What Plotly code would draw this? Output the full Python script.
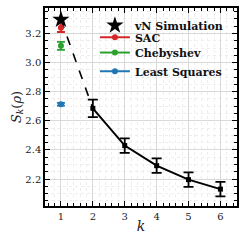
import plotly.graph_objects as go

# Data
k_vals = [2, 3, 4, 5, 6]
s_vals = [2.686, 2.43, 2.292, 2.196, 2.131]
s_err = [0.06, 0.05, 0.05, 0.05, 0.05]

vn_k = [1]
vn_s = [3.295]

dash_k = [1, 2]
dash_s = [3.295, 2.686]

sac_k = [1]
sac_s = [3.24]
sac_err = [0.03]

cheb_k = [1]
cheb_s = [3.115]
cheb_err = [0.028]

ls_k = [1]
ls_s = [2.714]
ls_err = [0.01]

x_ticks = [1, 2, 3, 4, 5, 6]
y_ticks = [2.2, 2.4, 2.6, 2.8, 3.0, 3.2]
y_tick_labels = ["2.2", "2.4", "2.6", "2.8", "3.0", "3.2"]

SERIF = "DejaVu Serif"
RED = "#d62728"
GREEN = "#2ca02c"
BLUE = "#1f77b4"

fig = go.Figure()

fig.add_trace(go.Scatter(
    x=dash_k, y=dash_s, mode="lines",
    line=dict(color="black", width=1.6, dash="dash"),
    showlegend=False, hoverinfo="skip"))

fig.add_trace(go.Scatter(
    x=k_vals, y=s_vals, mode="lines+markers",
    line=dict(color="black", width=2),
    marker=dict(color="black", size=5, symbol="square"),
    error_y=dict(type="data", array=s_err, color="black", thickness=1.8, width=5),
    showlegend=False))

fig.add_trace(go.Scatter(
    x=sac_k, y=sac_s, mode="lines+markers", name="SAC", legend="legend2",
    line=dict(color=RED, width=2),
    marker=dict(color=RED, size=6),
    error_y=dict(type="data", array=sac_err, color=RED, thickness=1.8, width=4)))

fig.add_trace(go.Scatter(
    x=cheb_k, y=cheb_s, mode="lines+markers", name="Chebyshev", legend="legend3",
    line=dict(color=GREEN, width=2),
    marker=dict(color=GREEN, size=6),
    error_y=dict(type="data", array=cheb_err, color=GREEN, thickness=1.8, width=4)))

fig.add_trace(go.Scatter(
    x=ls_k, y=ls_s, mode="lines+markers", name="Least Squares", legend="legend4",
    line=dict(color=BLUE, width=2),
    marker=dict(color=BLUE, size=6),
    error_y=dict(type="data", array=ls_err, color=BLUE, thickness=1.8, width=4)))

fig.add_trace(go.Scatter(
    x=vn_k, y=vn_s, mode="markers", name="vN Simulation", legend="legend",
    marker=dict(color="black", size=13, symbol="star")))

axis_common = dict(
    showline=True, linecolor="black", linewidth=1.5, mirror="allticks",
    ticks="inside", ticklen=5, tickwidth=1.2, tickcolor="black",
    showgrid=True, gridcolor="#d9d9d9", gridwidth=1,
    zeroline=False, automargin=False,
    tickfont=dict(family=SERIF, size=10, color="#222"),
)

fig.update_xaxes(
    range=[0.5, 6.52], tickvals=x_ticks,
    minor=dict(ticks="inside", dtick=0.2, tick0=0, ticklen=3, tickcolor="black",
               showgrid=True, gridcolor="#eeeeee", griddash="dot"),
    title=dict(text="<i>k</i>", font=dict(family=SERIF, size=14, color="#222"), standoff=0),
    **axis_common)

fig.update_yaxes(
    range=[2.015, 3.375], tickvals=y_ticks, ticktext=y_tick_labels,
    minor=dict(ticks="inside", dtick=0.05, tick0=0, ticklen=3, tickcolor="black",
               showgrid=True, gridcolor="#eeeeee", griddash="dot"),
    title=dict(text="<i>S</i><sub><i>k</i></sub>(<i>ρ</i>)",
               font=dict(family=SERIF, size=13, color="#222"), standoff=0),
    **axis_common)

legend_common = dict(
    x=0.26, xanchor="left", yanchor="middle",
    font=dict(family=SERIF, size=11, color="#111", weight="bold"),
    bgcolor="rgba(0,0,0,0)", itemwidth=30,
)

fig.update_layout(
    width=246, height=246,
    margin=dict(l=45, r=9, t=8, b=40, autoexpand=False),
    plot_bgcolor="white", paper_bgcolor="white",
    legend=dict(y=0.912, **legend_common),
    legend2=dict(y=0.852, **legend_common),
    legend3=dict(y=0.775, **legend_common),
    legend4=dict(y=0.68, **legend_common),
    showlegend=True,
)

fig.write_html("out.html", config={"displayModeBar": False},
               post_script="document.body.style.margin='0';")
